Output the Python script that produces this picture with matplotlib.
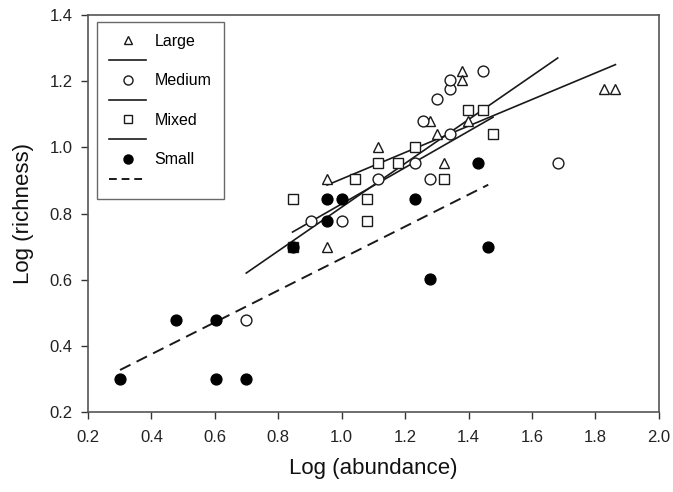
import matplotlib
matplotlib.use("Agg")
import matplotlib.pyplot as plt
from matplotlib.lines import Line2D

plt.rcParams['font.family'] = ['Liberation Sans', 'DejaVu Sans']

# Data (log abundance, log richness)
large_x = [0.954, 0.954, 1.114, 1.279, 1.301, 1.322, 1.380, 1.380, 1.398, 1.826, 1.863]
large_y = [0.903, 0.699, 1.000, 1.079, 1.041, 0.954, 1.230, 1.204, 1.079, 1.176, 1.176]

medium_x = [0.699, 0.903, 1.000, 1.114, 1.230, 1.279, 1.255, 1.342, 1.301, 1.342, 1.342, 1.447, 1.681]
medium_y = [0.477, 0.778, 0.778, 0.903, 0.954, 0.903, 1.079, 1.041, 1.146, 1.176, 1.204, 1.230, 0.954]

mixed_x = [0.845, 0.845, 1.041, 1.079, 1.079, 1.114, 1.176, 1.230, 1.322, 1.398, 1.447, 1.477]
mixed_y = [0.845, 0.699, 0.903, 0.845, 0.778, 0.954, 0.954, 1.000, 0.903, 1.114, 1.114, 1.041]

small_x = [0.301, 0.477, 0.602, 0.602, 0.699, 0.845, 0.954, 0.954, 1.000, 1.230, 1.279, 1.431, 1.462]
small_y = [0.301, 0.477, 0.477, 0.301, 0.301, 0.699, 0.778, 0.845, 0.845, 0.845, 0.602, 0.954, 0.699]

# Fitted regression lines (endpoints)
large_fit_x = [0.954, 1.863]
large_fit_y = [0.886, 1.250]
medium_fit_x = [0.699, 1.681]
medium_fit_y = [0.620, 1.270]
mixed_fit_x = [0.845, 1.477]
mixed_fit_y = [0.744, 1.091]
small_fit_x = [0.301, 1.462]
small_fit_y = [0.327, 0.887]

xticks = [0.2, 0.4, 0.6, 0.8, 1.0, 1.2, 1.4, 1.6, 1.8, 2.0]
yticks = [0.2, 0.4, 0.6, 0.8, 1.0, 1.2, 1.4]

fig = plt.figure(figsize=(6.73, 4.92), dpi=100)
ax = fig.add_axes([0.1308, 0.1626, 0.979 - 0.1308, 0.9695 - 0.1626])

ms = 7.5
mew = 1.0
ax.plot(large_fit_x, large_fit_y, color='#1a1a1a', lw=1.2)
ax.plot(medium_fit_x, medium_fit_y, color='#1a1a1a', lw=1.2)
ax.plot(mixed_fit_x, mixed_fit_y, color='#1a1a1a', lw=1.2)
ax.plot(small_fit_x, small_fit_y, color='#1a1a1a', lw=1.4, dashes=(6, 3.5))

ax.plot(large_x, large_y, linestyle='none', marker='^', ms=ms, mfc='white', mec='#1a1a1a', mew=mew)
ax.plot(medium_x, medium_y, linestyle='none', marker='o', ms=ms + 0.3, mfc='white', mec='#1a1a1a', mew=mew)
ax.plot(mixed_x, mixed_y, linestyle='none', marker='s', ms=ms - 0.7, mfc='white', mec='#1a1a1a', mew=mew)
ax.plot(small_x, small_y, linestyle='none', marker='o', ms=ms + 0.3, mfc='black', mec='black', mew=mew)

ax.set_xlim(0.2, 2.0)
ax.set_ylim(0.2, 1.4)
ax.set_xticks(xticks)
ax.set_yticks(yticks)
ax.set_xticklabels([f"{t:.1f}" for t in xticks])
ax.set_yticklabels([f"{t:.1f}" for t in yticks])
ax.tick_params(direction='out', length=5, width=1, colors='#333333', labelsize=12, labelcolor='#222222', pad=6)
ax.tick_params(axis='x', pad=8)
for s in ax.spines.values():
    s.set_color('#555555')
    s.set_linewidth(1.2)

ax.set_xlabel('Log (abundance)', fontsize=16, labelpad=9, color='#111111')
ax.set_ylabel('Log (richness)', fontsize=16, labelpad=11, color='#111111')

handles = [
    Line2D([], [], linestyle='none', marker='^', ms=ms - 1.5, mfc='white', mec='#1a1a1a', mew=mew),
    Line2D([], [], color='#1a1a1a', lw=1.2),
    Line2D([], [], linestyle='none', marker='o', ms=ms - 1, mfc='white', mec='#1a1a1a', mew=mew),
    Line2D([], [], color='#1a1a1a', lw=1.2),
    Line2D([], [], linestyle='none', marker='s', ms=ms - 2, mfc='white', mec='#1a1a1a', mew=mew),
    Line2D([], [], color='#1a1a1a', lw=1.2),
    Line2D([], [], linestyle='none', marker='o', ms=ms - 1, mfc='black', mec='black', mew=mew),
    Line2D([], [], color='#1a1a1a', lw=1.4, dashes=(4, 2.5)),
]
labels = ['Large', '', 'Medium', '', 'Mixed', '', 'Small', '']
leg = ax.legend(handles, labels, loc='upper left', bbox_to_anchor=(0.016, 0.983),
                fontsize=11.5, frameon=True, fancybox=False, edgecolor='#444444',
                handlelength=2.3, handletextpad=0.55, labelspacing=0.3,
                borderpad=0.75, borderaxespad=0)
leg.get_frame().set_linewidth(1.0)

fig.savefig('out.png', dpi=100)
